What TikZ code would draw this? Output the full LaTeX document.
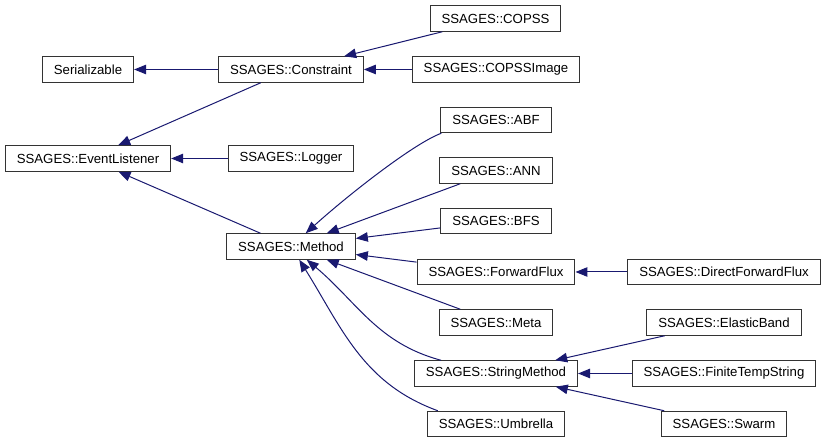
\documentclass[tikz,border=0pt]{standalone}
\usepackage{fontspec}
\setmainfont{Liberation Sans}
\usepackage{xcolor}
\usepackage{tikz}
\usetikzlibrary{arrows.meta}

\definecolor{edgeblue}{HTML}{191970}

\begin{document}
\begin{tikzpicture}[x=1pt, y=1pt, >={Triangle[length=12pt,width=9.5pt]},
    cls/.style={draw=black!80, line width=1pt, fill=white, inner xsep=11.5pt,
      inner ysep=0pt, minimum height=25.5pt, font=\fontsize{13.2}{15}\selectfont},
    inh/.style={->, draw=edgeblue, line width=1pt}]
    \useasboundingbox (0,0) rectangle (825,443);

    \node[cls] (ser) at (88,373.5) {Serializable};
    \node[cls] (con) at (291,373.5) {SSAGES::Constraint};
    \node[cls] (copss) at (495.5,424.5) {SSAGES::COPSS};
    \node[cls] (copssimg) at (496,373.5) {SSAGES::COPSSImage};
    \node[cls] (evl) at (88,284.5) {SSAGES::EventListener};
    \node[cls] (log) at (291,284.5) {SSAGES::Logger};
    \node[cls] (abf) at (496,323) {SSAGES::ABF};
    \node[cls] (ann) at (496,272.5) {SSAGES::ANN};
    \node[cls] (bfs) at (496,222) {SSAGES::BFS};
    \node[cls] (meth) at (291,196.5) {SSAGES::Method};
    \node[cls] (ffs) at (496,171) {SSAGES::ForwardFlux};
    \node[cls] (dffs) at (724,171) {SSAGES::DirectForwardFlux};
    \node[cls] (meta) at (496,120.5) {SSAGES::Meta};
    \node[cls] (strm) at (496,69.5) {SSAGES::StringMethod};
    \node[cls] (umb) at (496,19) {SSAGES::Umbrella};
    \node[cls] (eband) at (724,120.5) {SSAGES::ElasticBand};
    \node[cls] (fts) at (724,69.5) {SSAGES::FiniteTempString};
    \node[cls] (swarm) at (724,19) {SSAGES::Swarm};

    % base classes
    \draw[inh] (con) -- (ser);
    \draw[inh] (copss) -- (con);
    \draw[inh] (copssimg) -- (con);
    \draw[inh] (con) -- (evl);
    \draw[inh] (log) -- (evl);
    \draw[inh] (meth) -- (evl);

    % methods
    \draw[inh] ([xshift=1pt]abf.south west) .. controls +(200:28) and +(42:80) .. (meth);
    \draw[inh] (ann) -- (meth);
    \draw[inh] (bfs) -- (meth);
    \draw[inh] (ffs) -- (meth);
    \draw[inh] (dffs) -- (ffs);
    \draw[inh] (meta) -- (meth);
    \draw[inh] ([xshift=27pt]strm.north west) to[out=165,in=-40] (meth);
    \draw[inh] ([xshift=11pt]umb.north west) to[out=160,in=-58] (meth);

    % string methods
    \draw[inh] (eband) -- (strm);
    \draw[inh] (fts) -- (strm);
    \draw[inh] (swarm) -- (strm);
\end{tikzpicture}
\end{document}
